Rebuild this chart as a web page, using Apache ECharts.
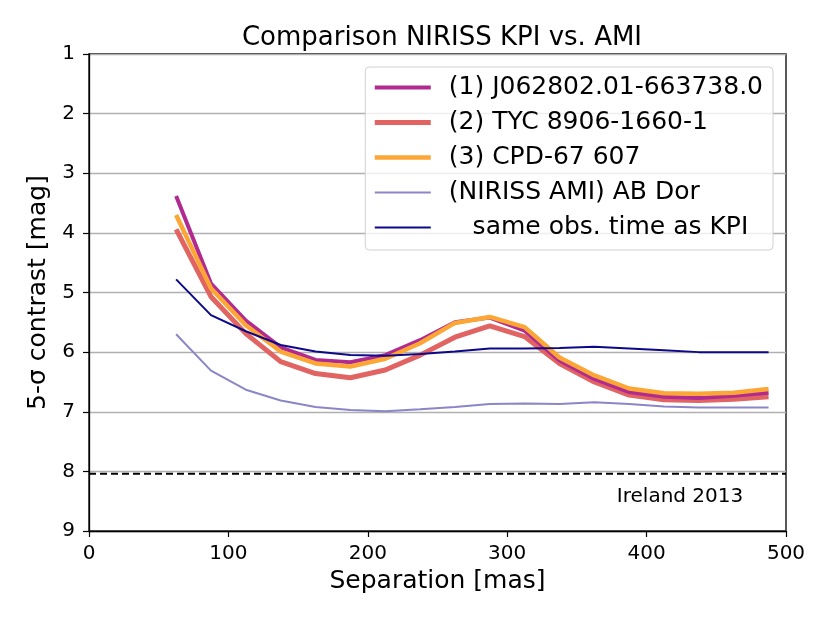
<!DOCTYPE html>
<html>
<head>
<meta charset="utf-8">
<script src="https://cdn.jsdelivr.net/npm/echarts@6/dist/echarts.min.js"></script>
<style>
  html, body { margin: 0; padding: 0; background: #fff; }
  #chart { width: 830px; height: 623px; }
</style>
</head>
<body>
<div id="chart"></div>
<script>
// separations [mas]
const sep = [62.5, 87.5, 112.5, 137.5, 162.5, 187.5, 212.5, 237.5, 262.5,
  287.5, 312.5, 337.5, 362.5, 387.5, 412.5, 437.5, 462.5, 487.5];

// 5-sigma contrast [mag]
const j0628 = [3.38, 4.85, 5.47, 5.92, 6.13, 6.17, 6.05, 5.80, 5.50,
  5.42, 5.64, 6.14, 6.45, 6.67, 6.75, 6.77, 6.73, 6.68];
const tyc = [3.94, 5.07, 5.69, 6.16, 6.36, 6.43, 6.30, 6.05, 5.75,
  5.56, 5.74, 6.19, 6.50, 6.72, 6.80, 6.81, 6.79, 6.75];
const cpd = [3.70, 4.93, 5.55, 5.99, 6.19, 6.24, 6.11, 5.85, 5.51,
  5.41, 5.58, 6.09, 6.39, 6.61, 6.69, 6.70, 6.68, 6.62];
const amiAbDor = [5.70, 6.31, 6.63, 6.81, 6.92, 6.97, 6.99, 6.96, 6.92,
  6.87, 6.86, 6.87, 6.84, 6.87, 6.91, 6.93, 6.93, 6.93];
const amiSameTime = [4.78, 5.38, 5.65, 5.88, 5.99, 6.05, 6.06, 6.03, 5.99,
  5.94, 5.94, 5.93, 5.91, 5.94, 5.97, 6.00, 6.00, 6.00];

const ireland2013 = 8.04;
const names = ["(1) J062802.01-663738.0", "(2) TYC 8906-1660-1", "(3) CPD-67 607",
  "(NIRISS AMI) AB Dor", "   same obs. time as KPI"];
const colors = ["#b12a90", "#e16462", "#fca636", "#8a86c8", "#0d0887"];
const widths = [4, 5, 4.5, 2, 2];

const pair = arr => arr.map((v, i) => [sep[i], v]);
const font = "DejaVu Sans";

const line = (i, data, z) => ({
  name: names[i],
  type: "line",
  data: pair(data),
  symbol: "none",
  z: z,
  lineStyle: { color: colors[i], width: widths[i] },
  itemStyle: { color: colors[i] }
});

const myChart = echarts.init(document.getElementById("chart"), null, { renderer: "canvas" });
myChart.setOption({
  animation: false,
  textStyle: { fontFamily: font },
  title: {
    text: "Comparison NIRISS KPI vs. AMI",
    left: 437, top: 20, textAlign: "center",
    textStyle: { fontFamily: font, fontSize: 26, fontWeight: "normal", color: "#000" }
  },
  grid: {
    left: 89, right: 44, top: 54, bottom: 92,
    show: true, borderColor: "#000", borderWidth: 1.3, backgroundColor: "transparent"
  },
  legend: {
    orient: "vertical",
    right: 57, top: 67,
    padding: [8, 10, 10, 7],
    itemWidth: 56, itemHeight: 27, itemGap: 10,
    backgroundColor: "rgba(255,255,255,0.8)",
    borderColor: "#d0d0d0", borderWidth: 1, borderRadius: 4,
    itemStyle: { opacity: 0 },
    textStyle: { fontFamily: font, fontSize: 25, color: "#000", padding: [0, 0, 0, 13] },
    data: names.map((n, i) => ({ name: n, lineStyle: { width: widths[i], color: colors[i] } }))
  },
  xAxis: {
    type: "value", min: 0, max: 500, interval: 100,
    name: "Separation [mas]", nameLocation: "middle", nameGap: 36,
    nameTextStyle: { fontFamily: font, fontSize: 25, color: "#000" },
    axisLine: { show: true, lineStyle: { color: "#000", width: 1.3 } },
    axisTick: { show: true, inside: false, length: 6, lineStyle: { color: "#000", width: 1.2 } },
    axisLabel: { fontFamily: font, fontSize: 20, color: "#000", margin: 13 },
    splitLine: { show: false }
  },
  yAxis: {
    type: "value", min: 1, max: 9, interval: 1, inverse: true,
    name: "5-σ contrast [mag]", nameLocation: "middle", nameGap: 37,
    nameTextStyle: { fontFamily: font, fontSize: 25, color: "#000" },
    axisLine: { show: true, lineStyle: { color: "#000", width: 1.3 } },
    axisTick: { show: true, inside: false, length: 6, lineStyle: { color: "#000", width: 1.2 } },
    axisLabel: { fontFamily: font, fontSize: 20, color: "#000", margin: 14 },
    splitLine: { show: true, lineStyle: { color: "#b0b0b0", width: 1.3 } }
  },
  series: [
    line(0, j0628, 5),
    line(1, tyc, 4),
    line(2, cpd, 6),
    line(3, amiAbDor, 3),
    line(4, amiSameTime, 7),
    {
      name: "Ireland 2013",
      type: "line",
      data: [[0, ireland2013], [500, ireland2013]],
      symbol: "none",
      z: 2,
      lineStyle: { color: "#000", width: 2, type: [7, 4] },
      markPoint: {
        symbol: "circle",
        symbolSize: 0,
        data: [{ coord: [424, 8.43] }],
        label: { show: true, position: "inside", formatter: "Ireland 2013", fontFamily: font, fontSize: 20, color: "#000" }
      }
    }
  ]
});
</script>
</body>
</html>
